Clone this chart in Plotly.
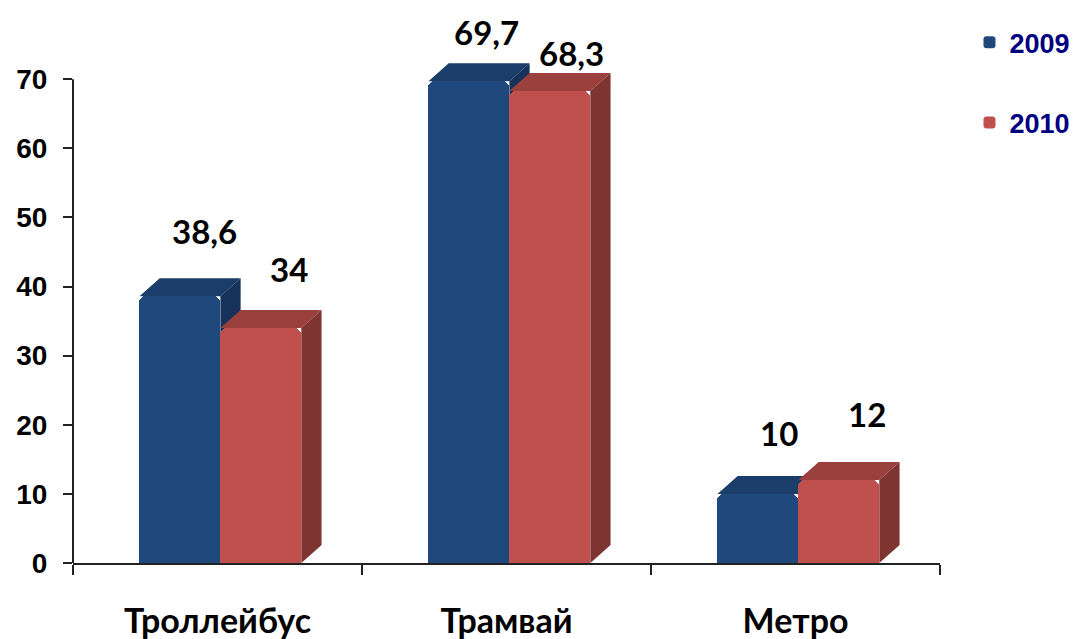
import plotly.graph_objects as go

# Passenger transport data
categories = ["Троллейбус", "Трамвай", "Метро"]
years = ["2009", "2010"]
values_2009 = [38.6, 69.7, 10]
values_2010 = [34, 68.3, 12]
label_text_2009 = ["38,6", "69,7", "10"]
label_text_2010 = ["34", "68,3", "12"]
y_ticks = [0, 10, 20, 30, 40, 50, 60, 70]

# Styling
front_colors = ["#1F497D", "#C0504D"]
top_colors = ["#1B3D69", "#9A413E"]
side_colors = ["#16325A", "#7E3431"]
bar_width = 0.28
bar_offsets = [-0.27, 0.01]
depth_dx = 0.07       # depth in x-axis units
depth_dy = 2.6        # depth in y-axis units
label_xshift = [[25, 18, 21], [28, 22, 28]]
label_yshift = [[65, 49, 61], [59, 38, 66]]

x_pos = list(range(len(categories)))
series = [values_2009, values_2010]
label_texts = [label_text_2009, label_text_2010]

fig = go.Figure()

for i, vals in enumerate(series):
    fig.add_trace(go.Bar(
        x=x_pos, y=vals, name=years[i],
        width=bar_width, offset=bar_offsets[i],
        marker=dict(color=front_colors[i], line=dict(width=0), cornerradius=7),
        legendgroup=years[i],
    ))

# Depth faces (top and right side) of each bar, built from the values
shapes = []
for c in x_pos:
    for i, vals in enumerate(series):
        v = vals[c]
        xl = c + bar_offsets[i]
        xr = xl + bar_width
        top = (f"M{xl},{v} L{xl + depth_dx},{v + depth_dy} "
               f"L{xr + depth_dx},{v + depth_dy} L{xr},{v} Z")
        side = (f"M{xr},{v} L{xr + depth_dx},{v + depth_dy} "
                f"L{xr + depth_dx},{depth_dy} L{xr},0 Z")
        for path, col in ((top, top_colors[i]), (side, side_colors[i])):
            shapes.append(dict(type="path", path=path, xref="x", yref="y",
                               fillcolor=col, line=dict(width=0), layer="below"))

# Vertical axis line from 0 to 70
shapes.append(dict(type="line", xref="paper", yref="y", x0=0, x1=0,
                   y0=y_ticks[0], y1=y_ticks[-1],
                   line=dict(color="#222222", width=2), layer="above"))

annotations = []
for i, vals in enumerate(series):
    for c in x_pos:
        annotations.append(dict(
            x=c + bar_offsets[i] + bar_width / 2, y=vals[c],
            xref="x", yref="y", text=label_texts[i][c], showarrow=False,
            xshift=label_xshift[i][c], yshift=label_yshift[i][c],
            yanchor="middle", xanchor="center",
            font=dict(family="Lato, Carlito, sans-serif", size=33,
                      color="#000000", weight="bold"),
        ))

fig.update_layout(
    width=1074, height=639, autosize=False,
    margin=dict(l=73, r=134, t=10, b=76, autoexpand=False),
    paper_bgcolor="white", plot_bgcolor="white",
    showlegend=True,
    legend=dict(
        x=1.034, y=0.985, xanchor="left", yanchor="top",
        font=dict(family="Liberation Sans, Arial, sans-serif", size=27,
                  color="#000080", weight="bold"),
        traceorder="grouped", tracegroupgap=42, itemwidth=30,
        bgcolor="rgba(0,0,0,0)",
    ),
    shapes=shapes,
    annotations=annotations,
    bargap=0,
)

fig.update_xaxes(
    range=[-0.5, 2.5], automargin=False,
    tickmode="array", tickvals=x_pos, ticktext=categories,
    ticks="", showgrid=False, zeroline=False,
    showline=True, linecolor="#222222", linewidth=2,
    ticklabelstandoff=27,
    tickfont=dict(family="Lato, Carlito, sans-serif", size=34,
                  color="#000000", weight="bold"),
    minor=dict(tickmode="array", tickvals=[-0.5, 0.5, 1.5, 2.5],
               ticks="outside", ticklen=10, tickwidth=2, tickcolor="#222222",
               showgrid=False),
)

fig.update_yaxes(
    range=[0, 80], automargin=False,
    tickmode="array", tickvals=y_ticks,
    ticks="outside", ticklen=9, tickwidth=2, tickcolor="#222222",
    showline=False, showgrid=False, zeroline=False,
    ticklabelstandoff=10,
    tickfont=dict(family="Liberation Sans, Arial, sans-serif", size=28,
                  color="#000000", weight="bold"),
)

fig.write_html("out.html")
